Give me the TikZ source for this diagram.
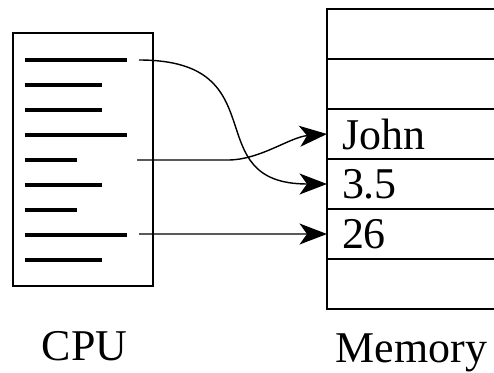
\documentclass[tikz,border=0pt]{standalone}
\usepackage{fontspec}
\setmainfont{Liberation Serif}
\usetikzlibrary{arrows.meta,positioning}

\tikzset{
  cell/.style={draw,line width=1.2pt,outer sep=0pt,minimum height=1cm,text width=3.4cm,
    inner xsep=0.3cm,inner ysep=0pt,align=left,anchor=north west},
  instr/.style={line width=2.2pt},
  link/.style={line width=0.8pt,-{Stealth[length=5.5mm,width=4.2mm,inset=1.5mm]}}
}

\begin{document}
\begin{tikzpicture}[font=\fontsize{25}{30}\selectfont]
\clip (0,0) rectangle (9.88,7.44);
\node[draw,line width=1.3pt,minimum width=2.8cm,minimum height=5.06cm] (cpu) at (1.66,4.25) {};
\foreach \len [count=\i] in {2.05,1.55,1.55,2.05,1.05,1.55,1.05,2.05,1.55}
  \draw[instr] (0.49,6.74-0.5*\i) -- ++(\len,0);
\node[cell] (m1) at (6.54,7.26) {};
\node[cell,below=0pt of m1] (m2) {};
\node[cell,below=0pt of m2] (m3) {John};
\node[cell,below=0pt of m3] (m4) {3.5};
\node[cell,below=0pt of m4] (m5) {26};
\node[cell,below=0pt of m5] (m6) {};
\coordinate (p1) at (2.78,6.24);
\coordinate (p5) at (2.74,4.24);
\coordinate (p8) at (2.78,2.76);
\draw[link] (p1) .. controls (5.6,6.24) and (3.9,3.76) .. (m4.west);
\draw[link] (p5) -- (4.56,4.24) .. controls (5.2,4.24) and (5.8,4.7) .. (m3.west);
\draw[link] (p8) -- (m5.west);
\node[anchor=base] (cpulabel) at (1.69,0.24) {CPU};
\node[anchor=base] (memlabel) at (8.23,0.2) {Memory};
\end{tikzpicture}
\end{document}
